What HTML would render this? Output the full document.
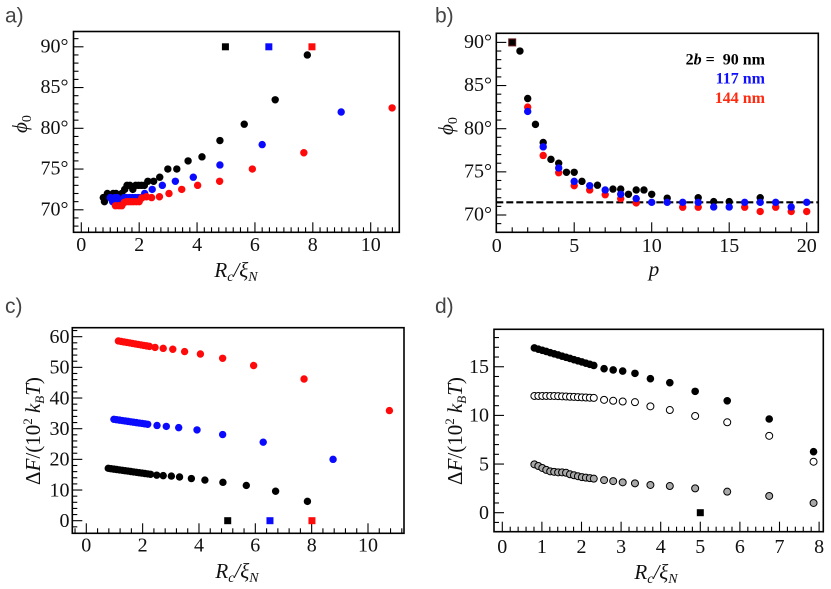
<!DOCTYPE html>
<html><head><meta charset="utf-8">
<style>
html,body{margin:0;padding:0;background:#fff;width:831px;height:589px;overflow:hidden}
svg{display:block}
svg text{white-space:pre;font-family:"Liberation Serif","DejaVu Serif",serif}
svg text.sans{font-family:"Liberation Sans","DejaVu Sans",sans-serif}
</style></head>
<body>
<svg id="s" width="831" height="589" viewBox="0 0 831 589" xmlns="http://www.w3.org/2000/svg">
<rect width="831" height="589" fill="#fff"/>
<g id="g"></g>

<!-- panel letters -->
<g font-size="21" fill="#444">
<text class="sans" x="5" y="22.5">a)</text>
<text class="sans" x="435" y="22.5">b)</text>
<text class="sans" x="5" y="313">c)</text>
<text class="sans" x="435" y="313">d)</text>
</g>

<!-- Panel a tick labels -->
<g font-size="20" fill="#111">
<g text-anchor="end">
<text x="68.5" y="215.5">70°</text>
<text x="68.5" y="174.7">75°</text>
<text x="68.5" y="134">80°</text>
<text x="68.5" y="93.2">85°</text>
<text x="68.5" y="52.5">90°</text>
</g>
<g text-anchor="middle">
<text x="81.3" y="251">0</text>
<text x="139.2" y="251">2</text>
<text x="197.1" y="251">4</text>
<text x="254.9" y="251">6</text>
<text x="312.8" y="251">8</text>
<text x="370.7" y="251">10</text>
</g>

<!-- Panel b tick labels -->
<g text-anchor="end">
<text x="492" y="220.7">70°</text>
<text x="492" y="177.5">75°</text>
<text x="492" y="134.4">80°</text>
<text x="492" y="91.2">85°</text>
<text x="492" y="48.1">90°</text>
</g>
<g text-anchor="middle">
<text x="496.7" y="252">0</text>
<text x="574.2" y="252">5</text>
<text x="651.7" y="252">10</text>
<text x="729.2" y="252">15</text>
<text x="806.7" y="252">20</text>
</g>

<!-- Panel c tick labels -->
<g text-anchor="end">
<text x="69.5" y="527">0</text>
<text x="69.5" y="496.3">10</text>
<text x="69.5" y="465.7">20</text>
<text x="69.5" y="435">30</text>
<text x="69.5" y="404.3">40</text>
<text x="69.5" y="373.6">50</text>
<text x="69.5" y="343">60</text>
</g>
<g text-anchor="middle">
<text x="86.3" y="551.5">0</text>
<text x="142.6" y="551.5">2</text>
<text x="199" y="551.5">4</text>
<text x="255.3" y="551.5">6</text>
<text x="311.7" y="551.5">8</text>
<text x="368" y="551.5">10</text>
</g>

<!-- Panel d tick labels -->
<g text-anchor="end">
<text x="489" y="519">0</text>
<text x="489" y="470.3">5</text>
<text x="489" y="421.7">10</text>
<text x="489" y="373">15</text>
</g>
<g text-anchor="middle">
<text x="502.3" y="553">0</text>
<text x="541.9" y="553">1</text>
<text x="581.5" y="553">2</text>
<text x="621.1" y="553">3</text>
<text x="660.7" y="553">4</text>
<text x="700.3" y="553">5</text>
<text x="739.9" y="553">6</text>
<text x="779.5" y="553">7</text>
<text x="819.1" y="553">8</text>
</g>
</g>

<!-- axis titles -->
<g font-size="21" fill="#111" font-style="italic">
<text x="236" y="277" text-anchor="middle">R<tspan font-size="14" dy="4">c</tspan><tspan dy="-4">/ξ</tspan><tspan font-size="14" dy="4">N</tspan></text>
<text x="654" y="276" text-anchor="middle">p</text>
<text x="237" y="578" text-anchor="middle">R<tspan font-size="14" dy="4">c</tspan><tspan dy="-4">/ξ</tspan><tspan font-size="14" dy="4">N</tspan></text>
<text x="656" y="579" text-anchor="middle">R<tspan font-size="14" dy="4">c</tspan><tspan dy="-4">/ξ</tspan><tspan font-size="14" dy="4">N</tspan></text>
<text transform="translate(27,124) rotate(-90)" text-anchor="middle">ϕ<tspan font-style="normal" font-size="14" dy="4">0</tspan></text>
<text transform="translate(453,126) rotate(-90)" text-anchor="middle">ϕ<tspan font-style="normal" font-size="14" dy="4">0</tspan></text>
</g>
<g font-size="21" fill="#111">
<text transform="translate(40,431) rotate(-90)" text-anchor="middle">Δ<tspan font-style="italic">F</tspan>/(10<tspan font-size="13" dy="-8">2</tspan><tspan dy="8"> </tspan><tspan font-style="italic">k</tspan><tspan font-style="italic" font-size="13" dy="4">B</tspan><tspan font-style="italic" dy="-4">T</tspan>)</text>
<text transform="translate(462,431) rotate(-90)" text-anchor="middle">Δ<tspan font-style="italic">F</tspan>/(10<tspan font-size="13" dy="-8">2</tspan><tspan dy="8"> </tspan><tspan font-style="italic">k</tspan><tspan font-style="italic" font-size="13" dy="4">B</tspan><tspan font-style="italic" dy="-4">T</tspan>)</text>
</g>

<!-- legend b -->
<g font-size="16" font-weight="bold" text-anchor="end">
<text x="765" y="64.5" fill="#000">2<tspan font-style="italic">b</tspan> =  90 nm</text>
<text x="765" y="83.5" fill="#1010ff">117 nm</text>
<text x="765" y="103" fill="#ff2a10">144 nm</text>
</g>
</svg>

<script>
(function(){
const NS='http://www.w3.org/2000/svg';
const G=document.getElementById('g');
function el(t,a){const e=document.createElementNS(NS,t);for(const k in a)e.setAttribute(k,a[k]);G.appendChild(e);return e;}
function axes(P){
  const rx=Math.round(P.xmaj/P.xmin), ry=Math.round(P.ymaj/P.ymin);
  for(let i=Math.ceil(P.xlo/P.xmin-1e-9);i<=Math.floor(P.xhi/P.xmin+1e-9);i++){
    const px=P.X(i*P.xmin); if(px<=P.l+0.8||px>=P.r-0.8)continue;
    const L=(i%rx===0)?10:5;
    el('line',{x1:px,x2:px,y1:P.b,y2:P.b-L,stroke:'#000','stroke-width':1.1});
  }
  for(let i=Math.ceil(P.ylo/P.ymin-1e-9);i<=Math.floor(P.yhi/P.ymin+1e-9);i++){
    const py=P.Y(i*P.ymin); if(py<=P.t+0.8||py>=P.b-0.8)continue;
    const L=(i%ry===0)?10:5;
    el('line',{x1:P.l,x2:P.l+L,y1:py,y2:py,stroke:'#000','stroke-width':1.1});
  }
  el('rect',{x:P.l,y:P.t,width:P.r-P.l,height:P.b-P.t,fill:'none',stroke:'#000','stroke-width':1.6});
}
function dots(P,d,fill,r,stroke,sw){
  r=r||3.7;
  for(const [x,y] of d){
    const a={cx:P.X(x),cy:P.Y(y),r:r,fill:fill};
    if(stroke){a.stroke=stroke;a['stroke-width']=sw||1;}
    el('circle',a);
  }
}
function sq(P,x,y,fill,s,stroke){s=s||7;const a={x:P.X(x)-s/2,y:P.Y(y)-s/2,width:s,height:s,fill:fill};if(stroke){a.stroke=stroke;a['stroke-width']=1;}el('rect',a);}

const BL='#000', BU='#0a0aff', RD='#ff0a0a';

/* Panel a */
const A={l:73.5,r:399.3,t:31.5,b:232.3,X:v=>81.3+28.94*v,Y:v=>209.8-8.15*(v-70),
  xlo:-0.25,xhi:11,xmin:0.25,xmaj:2,ylo:67,yhi:92,ymin:1,ymaj:5};
axes(A);
const aK=[[0.76,71.5],[0.80,71.0],[0.90,72.0],[1.00,71.5],[1.10,72.0],[1.20,72.0],[1.30,71.5],[1.40,72.0],[1.50,72.5],[1.58,73.0],[1.68,73.0],[1.78,72.5],[1.88,73.0],[1.98,73.0],[2.08,73.0],[2.18,73.0],[2.30,73.5],[2.50,73.5],[2.71,74.0],[2.99,75.0],[3.30,75.0],[3.69,76.0],[4.17,76.5],[4.79,78.5],[5.63,80.5],[6.70,83.5],[7.81,89.0]];
const aB=[[1.00,71.5],[1.08,71.0],[1.16,71.5],[1.24,71.5],[1.32,71.0],[1.40,71.0],[1.48,71.5],[1.56,71.5],[1.66,71.5],[1.76,71.5],[1.86,71.5],[1.96,71.5],[2.06,71.5],[2.19,72.0],[2.45,72.5],[2.80,73.0],[3.25,73.5],[3.87,74.0],[4.79,75.5],[6.25,78.0],[8.98,82.0]];
const aR=[[1.18,70.5],[1.30,70.5],[1.40,70.5],[1.48,70.9],[1.56,71.0],[1.64,71.0],[1.72,71.0],[1.80,71.0],[1.90,71.0],[2.00,71.0],[2.09,71.45],[2.25,71.6],[2.43,71.5],[2.70,71.6],[3.03,72.0],[3.47,72.5],[4.02,73.0],[4.78,73.5],[5.91,75.0],[7.69,77.0],[10.74,82.5]];
dots(A,aK,BL);dots(A,aB,BU);dots(A,aR,RD);
sq(A,4.98,90,BL);sq(A,6.48,90,BU);sq(A,7.97,90,RD);

/* Panel b */
const B={l:496.3,r:818.3,t:33.3,b:232.3,X:v=>496.7+15.5*v,Y:v=>215-8.63*(v-70),
  xlo:0,xhi:21,xmin:1,xmaj:5,ylo:68,yhi:91,ymin:1,ymaj:5};
axes(B);
el('line',{x1:B.l,x2:B.r,y1:B.Y(71.47),y2:B.Y(71.47),stroke:'#000','stroke-width':2.2,'stroke-dasharray':'7 3'});
const bK=[[1.5,89.0],[2,83.5],[2.5,80.5],[3,78.4],[3.5,76.45],[4,76.0],[4.5,74.95],[5,74.95],[5.5,73.9],[6.5,73.45],[7.5,73.0],[8,73.0],[8.5,72.4],[9,72.9],[9.5,72.9],[10,72.4],[11,71.95],[13,72.0],[14,71.55],[15,71.55],[17,72.0]];
const bR=[[2,82.5],[3,76.9],[4,74.9],[5,73.4],[6,72.9],[7,72.35],[8,71.9],[9,71.4],[12,70.9],[13,70.9],[16,70.9],[17,70.4],[18,70.9],[19,70.4],[20,70.4]];
const bB=[[2,82.0],[3,77.9],[4,75.45],[5,73.9],[6,73.4],[7,72.9],[8,72.4],[9,71.9],[10,71.47],[11,71.47],[12,71.47],[13,71.47],[14,70.93],[15,70.93],[16,71.47],[17,71.47],[18,71.47],[19,70.93],[20,71.47]];
dots(B,bK,BL);dots(B,bR,RD);dots(B,bB,BU);
sq(B,1,90,BL,7,'#6a1a1a');

/* Panel c */
const C={l:72.3,r:404,t:327.7,b:533.3,X:v=>86.3+28.17*v,Y:v=>520.7-3.067*v,
  xlo:-0.4,xhi:11.2,xmin:0.4,xmaj:2,ylo:-4,yhi:62,ymin:2,ymaj:10};
axes(C);
const cK=[],cB=[],cR=[];
for(let x=0.78;x<=2.33;x+=0.1)cK.push([x,17.08-1.3*(x-0.78)]);
cK.push([2.50,14.85],[2.73,14.7],[3.02,14.55],[3.31,14.25],[3.73,13.75],[4.21,13.25],[4.85,12.5],[5.68,11.5],[6.72,9.6],[7.85,6.3]);
for(let x=0.98;x<=2.23;x+=0.1)cB.push([x,33.06-1.35*(x-0.98)]);
cB.push([2.51,31.05],[2.84,30.75],[3.28,30.35],[3.93,29.6],[4.84,28.1],[6.28,25.6],[8.76,20.0]);
for(let x=1.14;x<=2.25;x+=0.1)cR.push([x,58.6-1.6*(x-1.14)]);
cR.push([2.44,56.5],[2.73,56.2],[3.07,55.9],[3.49,55.15],[4.05,54.35],[4.84,52.95],[5.94,50.6],[7.73,46.2],[10.76,35.9]);
dots(C,cK,BL);dots(C,cB,BU);dots(C,cR,RD);
sq(C,5.02,0,BL);sq(C,6.52,0,BU);sq(C,8.01,0,RD);

/* Panel d */
const D={l:494,r:823.3,t:329.3,b:531.7,X:v=>502.3+39.6*v,Y:v=>512.7-9.73*v,
  xlo:-0.2,xhi:8.1,xmin:0.2,xmaj:1,ylo:-2,yhi:18,ymin:1,ymaj:5};
axes(D);
const dX=[],dF=[],dO=[],dG=[];
const gC=[4.97,4.8,4.6,4.4,4.25,4.2,4.15,4.15,4.1,3.95,3.85,3.75,3.65,3.6,3.55,3.5];
for(let i=0;i<16;i++){const x=0.81+0.1*i;dX.push(x);dF.push(16.93-1.2*(x-0.81));dO.push(x<1.3?12.0:12.0-0.2*(x-1.3));dG.push(gC[i]);}
const tX=[2.57,2.80,3.04,3.35,3.74,4.23,4.87,5.68,6.74,7.86];
const tF=[14.8,14.67,14.56,14.32,13.77,13.36,12.47,11.5,9.63,6.27];
const tO=[11.6,11.5,11.43,11.36,10.93,10.55,9.94,9.29,7.9,5.24];
const tG=[3.35,3.25,3.12,3.02,2.85,2.74,2.5,2.16,1.72,1.0];
const F=[],O=[],Gr=[];
for(let i=0;i<dX.length;i++){F.push([dX[i],dF[i]]);O.push([dX[i],dO[i]]);Gr.push([dX[i],dG[i]]);}
for(let i=0;i<tX.length;i++){F.push([tX[i],tF[i]]);O.push([tX[i],tO[i]]);Gr.push([tX[i],tG[i]]);}
dots(D,F,'#000',3.8);
dots(D,O,'#fff',3.5,'#000',1);
dots(D,Gr,'#a8a8a8',3.5,'#000',1);
sq(D,5.0,0,'#000',7);
})();
</script>
</body></html>
